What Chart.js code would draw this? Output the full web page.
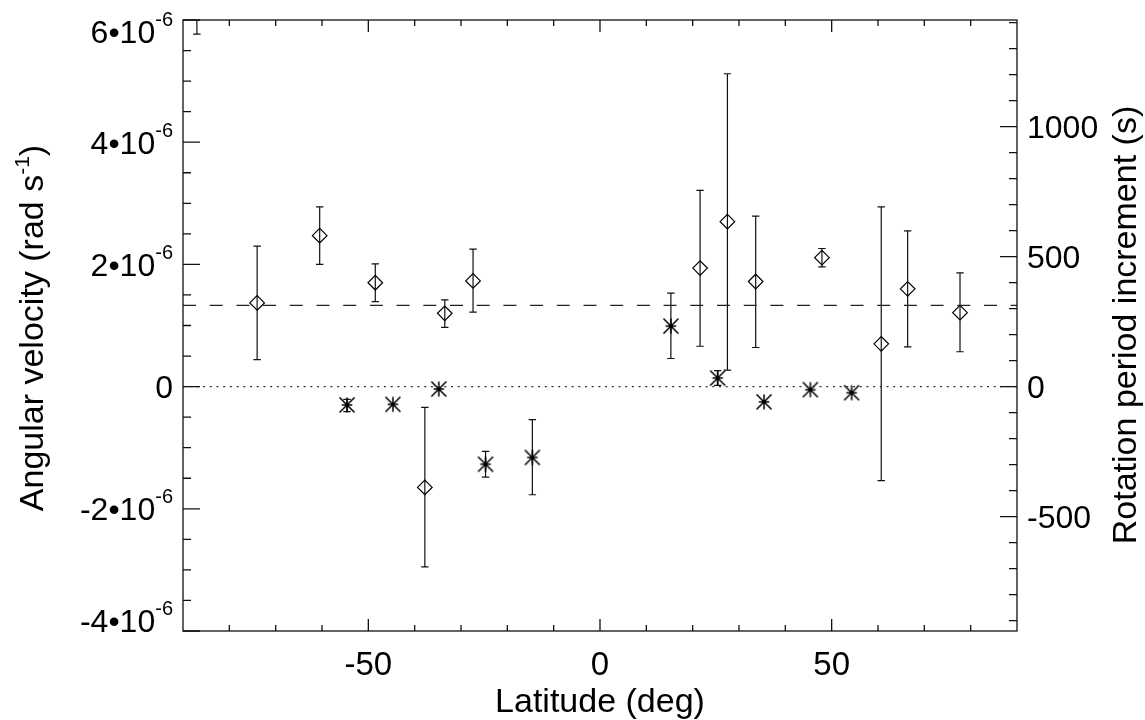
<!DOCTYPE html>
<html>
<head>
<meta charset="utf-8">
<script src="https://cdn.jsdelivr.net/npm/chart.js@4.4.1/dist/chart.umd.min.js"></script>
<style>
  body { margin: 0; background: #fff; }
  #wrap { width: 1145px; height: 720px; }
</style>
</head>
<body>
<div id="wrap"><canvas id="rotChart"></canvas></div>
<script>
// diamonds: latitude (deg), angular velocity (rad/s) and error bar ends
const diamondLat = [-87, -74.0, -60.5, -48.5, -37.8, -33.5, -27.4, 21.6, 27.5, 33.6, 47.9, 60.7, 66.4, 77.7];
const diamondVal = [6.5e-6, 1.37e-6, 2.47e-6, 1.70e-6, -1.65e-6, 1.20e-6, 1.73e-6, 1.94e-6, 2.70e-6, 1.72e-6, 2.11e-6, 0.70e-6, 1.60e-6, 1.21e-6];
const diamondHi  = [7.2e-6, 2.30e-6, 2.94e-6, 2.01e-6, -0.34e-6, 1.42e-6, 2.25e-6, 3.21e-6, 5.12e-6, 2.79e-6, 2.26e-6, 2.94e-6, 2.55e-6, 1.86e-6];
const diamondLo  = [5.77e-6, 0.44e-6, 2.00e-6, 1.39e-6, -2.95e-6, 0.97e-6, 1.22e-6, 0.66e-6, 0.27e-6, 0.64e-6, 1.96e-6, -1.54e-6, 0.65e-6, 0.57e-6];

// asterisks
const starLat = [-54.6, -44.7, -34.8, -24.7, -14.6, 15.3, 25.4, 35.4, 45.4, 54.3];
const starVal = [-0.30e-6, -0.29e-6, -0.04e-6, -1.27e-6, -1.16e-6, 0.99e-6, 0.14e-6, -0.25e-6, -0.05e-6, -0.10e-6];
const starHi  = [-0.21e-6, -0.29e-6, -0.04e-6, -1.06e-6, -0.54e-6, 1.53e-6, 0.26e-6, -0.25e-6, -0.05e-6, -0.10e-6];
const starLo  = [-0.41e-6, -0.29e-6, -0.04e-6, -1.48e-6, -1.77e-6, 0.46e-6, 0.02e-6, -0.25e-6, -0.05e-6, -0.10e-6];

const meanLevel = 1.33e-6;

// tick labels
const xTicks = [-50, 0, 50];
const leftTicks = [-4e-6, -2e-6, 0, 2e-6, 4e-6, 6e-6];
const leftMantissa = ['-4', '-2', '0', '2', '4', '6'];
const rightTicks = [-500, 0, 500, 1000];

const FONT = '"Liberation Sans", Arial, Helvetica, sans-serif';

function makeAsterisk(r) {
    const s = Math.ceil(r * 2 + 3);
    const c = document.createElement('canvas');
    c.width = s; c.height = s;
    const g = c.getContext('2d');
    const m = s / 2;
    g.strokeStyle = '#000';
    g.lineWidth = 1.5;
    g.beginPath();
    g.moveTo(m, m - r); g.lineTo(m, m + r);
    g.moveTo(m - r * 0.7, m); g.lineTo(m + r * 0.7, m);
    g.moveTo(m - r, m - r); g.lineTo(m + r, m + r);
    g.moveTo(m - r, m + r); g.lineTo(m + r, m - r);
    g.stroke();
    g.fillStyle = '#000';
    g.beginPath(); g.arc(m, m, 2, 0, Math.PI * 2); g.fill();
    return c;
}

const errorBars = {
    id: 'errorBars',
    beforeDatasetsDraw(chart) {
        const { ctx, chartArea: a, scales: { x, y } } = chart;
        ctx.save();
        ctx.beginPath(); ctx.rect(a.left, a.top, a.right - a.left, a.bottom - a.top); ctx.clip();
        ctx.strokeStyle = '#111';
        ctx.lineWidth = 1.2;
        [[diamondLat, diamondHi, diamondLo], [starLat, starHi, starLo]].forEach(([lat, hi, lo]) => {
            lat.forEach((v, i) => {
                if (hi[i] === lo[i]) return;
                const px = x.getPixelForValue(v);
                const t = y.getPixelForValue(hi[i]);
                const b = y.getPixelForValue(lo[i]);
                ctx.beginPath();
                ctx.moveTo(px, t); ctx.lineTo(px, b);
                ctx.moveTo(px - 3.7, t); ctx.lineTo(px + 3.7, t);
                ctx.moveTo(px - 3.7, b); ctx.lineTo(px + 3.7, b);
                ctx.stroke();
            });
        });
        ctx.restore();
    }
};

// frame, inward ticks, labels and titles
const axesFrame = {
    id: 'axesFrame',
    afterDraw(chart) {
        const { ctx, chartArea: a, scales: { x, y, y2 } } = chart;
        ctx.save();
        ctx.strokeStyle = '#111';
        ctx.lineWidth = 1.3;
        ctx.strokeRect(a.left, a.top, a.right - a.left, a.bottom - a.top);

        ctx.beginPath();
        for (let v = -80; v <= 80; v += 10) {
            const px = x.getPixelForValue(v);
            const len = v % 50 === 0 ? 12 : 6;
            ctx.moveTo(px, a.bottom); ctx.lineTo(px, a.bottom - len);
            ctx.moveTo(px, a.top); ctx.lineTo(px, a.top + len);
        }
        for (let k = -8; k <= 12; k++) {
            const py = y.getPixelForValue(k * 0.5e-6);
            const len = k % 4 === 0 ? 17 : 8;
            ctx.moveTo(a.left, py); ctx.lineTo(a.left + len, py);
        }
        for (let v = -900; v <= 1400; v += 100) {
            const py = y2.getPixelForValue(v);
            const len = v % 500 === 0 ? 17 : 8;
            ctx.moveTo(a.right, py); ctx.lineTo(a.right - len, py);
        }
        ctx.stroke();

        ctx.fillStyle = '#000';
        ctx.textBaseline = 'alphabetic';
        const digitH = 0.716 * 32;

        // left tick labels
        leftTicks.forEach((v, i) => {
            let cy = y.getPixelForValue(v);
            cy = Math.min(Math.max(cy, a.top + 11.5), a.bottom - 10);
            const base = cy + digitH / 2;
            if (v === 0) {
                ctx.font = '32px ' + FONT;
                ctx.textAlign = 'right';
                ctx.fillText('0', 173, base);
                return;
            }
            const main = leftMantissa[i] + '\u202210';
            ctx.font = '20px ' + FONT;
            const wSup = ctx.measureText('-6').width;
            ctx.textAlign = 'right';
            ctx.fillText('-6', 173, base - 17);
            ctx.font = '32px ' + FONT;
            ctx.fillText(main, 173 - wSup, base);
        });

        // right tick labels
        ctx.font = '32px ' + FONT;
        ctx.textAlign = 'left';
        rightTicks.forEach(v => {
            const cy = y2.getPixelForValue(v);
            ctx.fillText(String(v), 1027, cy + digitH / 2);
        });

        // bottom tick labels
        ctx.textAlign = 'center';
        ctx.font = '33px ' + FONT;
        xTicks.forEach(v => {
            ctx.fillText(String(v), x.getPixelForValue(v), a.bottom + 44);
        });

        // titles
        ctx.font = '34px ' + FONT;
        ctx.fillText('Latitude (deg)', (a.left + a.right) / 2, a.bottom + 81);

        // left title with superscript
        ctx.save();
        ctx.translate(43, 328);
        ctx.rotate(-Math.PI / 2);
        ctx.font = '34px ' + FONT;
        const p1 = 'Angular velocity (rad s', p3 = ')';
        const w1 = ctx.measureText(p1).width, w3 = ctx.measureText(p3).width;
        ctx.font = '21px ' + FONT;
        const w2 = ctx.measureText('-1').width;
        const start = -(w1 + w2 + w3) / 2;
        ctx.textAlign = 'left';
        ctx.font = '34px ' + FONT;
        ctx.fillText(p1, start, 0);
        ctx.fillText(p3, start + w1 + w2, 0);
        ctx.font = '21px ' + FONT;
        ctx.fillText('-1', start + w1, -14);
        ctx.restore();

        // right title
        ctx.save();
        ctx.translate(1136, 325);
        ctx.rotate(-Math.PI / 2);
        ctx.font = '34px ' + FONT;
        ctx.textAlign = 'center';
        ctx.fillText('Rotation period increment (s)', 0, 0);
        ctx.restore();

        ctx.restore();
    }
};

const ctx = document.getElementById('rotChart').getContext('2d');
const rotChart = new Chart(ctx, {
    type: 'scatter',
    data: {
        datasets: [
            { label: 'mean', type: 'line', data: [{ x: -90, y: meanLevel }, { x: 90, y: meanLevel }], borderColor: '#222', borderWidth: 1.2, borderDash: [13, 13.7], pointRadius: 0, fill: false },
            { label: 'zero', type: 'line', data: [{ x: -90, y: 0 }, { x: 90, y: 0 }], borderColor: '#333', borderWidth: 1.2, borderDash: [2, 4.7], pointRadius: 0, fill: false },
            { label: 'diamonds', data: diamondLat.map((v, i) => ({ x: v, y: diamondVal[i] })), pointStyle: 'rectRot', pointRadius: 7.3, borderColor: '#000', borderWidth: 1.2, backgroundColor: 'rgba(0,0,0,0)' },
            { label: 'asterisks', data: starLat.map((v, i) => ({ x: v, y: starVal[i] })), pointStyle: makeAsterisk(7.5), pointRadius: 8 }
        ]
    },
    options: {
        responsive: true,
        maintainAspectRatio: false,
        animation: false,
        layout: { padding: { left: 183, top: 20, right: 128, bottom: 89 } },
        plugins: { legend: { display: false }, tooltip: { enabled: false } },
        scales: {
            x: { type: 'linear', min: -90, max: 90, display: false },
            y: { type: 'linear', min: -4e-6, max: 6e-6, display: false },
            y2: { type: 'linear', position: 'right', min: -940, max: 1410, display: false }
        }
    },
    plugins: [errorBars, axesFrame]
});
</script>
</body>
</html>
